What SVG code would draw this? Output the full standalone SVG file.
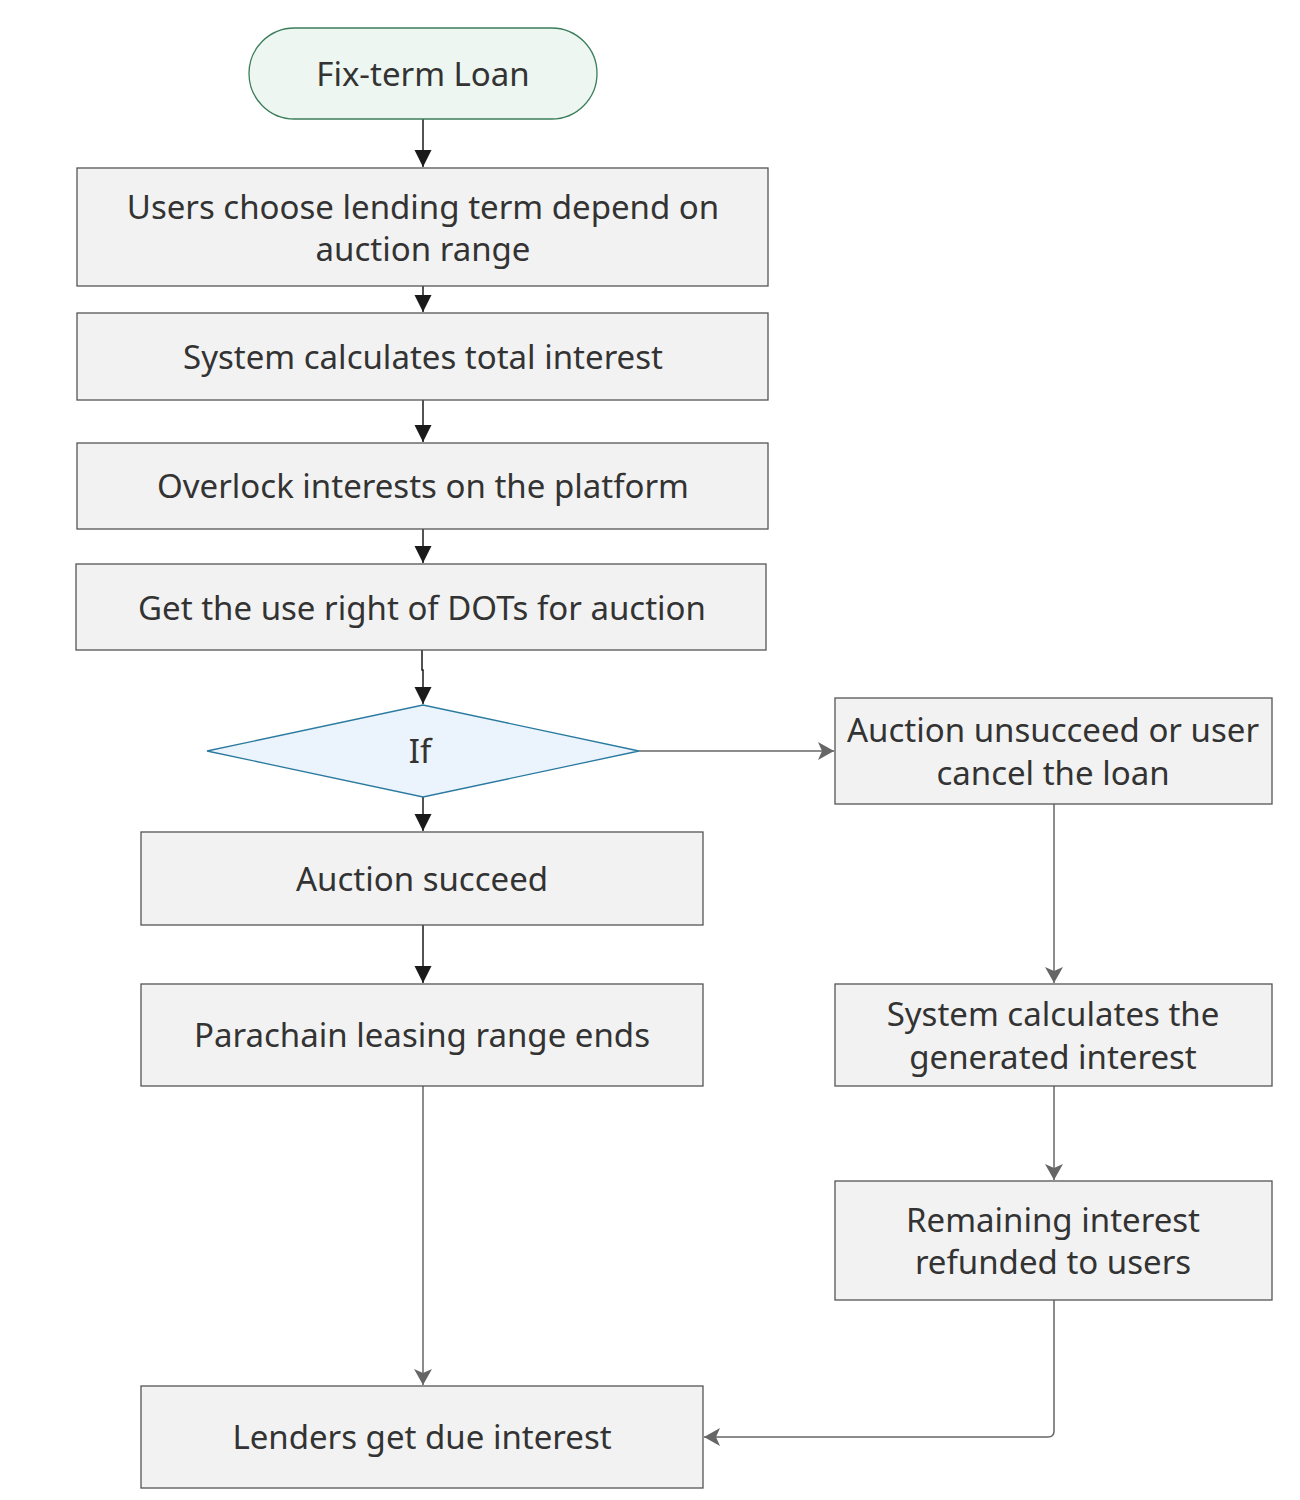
<svg xmlns="http://www.w3.org/2000/svg" width="1300" height="1500" viewBox="0 0 1300 1500">
<defs>
<style>
.box{fill:#f2f2f2;stroke:#555;stroke-width:1.3}
.t{font-family:"Noto Sans","Open Sans","Liberation Sans",sans-serif;font-size:33px;fill:#333;text-anchor:middle}
.cb{fill:none;stroke:#1a1a1a;stroke-width:1.5}
.cg{fill:none;stroke:#666;stroke-width:1.5}
</style>
<marker id="ab" markerWidth="18" markerHeight="18" viewBox="0 0 18 18" refX="17" refY="9" orient="auto" markerUnits="userSpaceOnUse">
<path d="M0,0.5 L17,9 L0,17.5 Z" fill="#1a1a1a"/>
</marker>
<marker id="ag" markerWidth="18" markerHeight="18" viewBox="0 0 18 18" refX="16" refY="9" orient="auto" markerUnits="userSpaceOnUse">
<path d="M0,0 L16,9 L0,18 L4,9 Z" fill="#666"/>
</marker>
</defs>
<rect width="1300" height="1500" fill="#fff"/>
<g id="connectors">
<path class="cb" d="M423,119 V167" marker-end="url(#ab)"/>
<path class="cb" d="M423,286 V312" marker-end="url(#ab)"/>
<path class="cb" d="M423,400 V442" marker-end="url(#ab)"/>
<path class="cb" d="M423,529 V563" marker-end="url(#ab)"/>
<path class="cb" d="M422,650 V670 H423 V704" marker-end="url(#ab)"/>
<path class="cb" d="M423,797 V831" marker-end="url(#ab)"/>
<path class="cb" d="M423,925 V983" marker-end="url(#ab)"/>
<path class="cg" d="M423,1086 V1385" marker-end="url(#ag)"/>
<path class="cg" d="M639,751 H834" marker-end="url(#ag)"/>
<path class="cg" d="M1054,804 V983" marker-end="url(#ag)"/>
<path class="cg" d="M1054,1086 V1180" marker-end="url(#ag)"/>
<path class="cg" d="M1054,1300 V1431 Q1054,1437 1048,1437 H704" marker-end="url(#ag)"/>
</g>
<g id="start">
<rect x="249" y="28" width="348" height="91" rx="45.5" fill="#edf6f1" stroke="#3a7d5a" stroke-width="1.3"/>
<text class="t" x="423" y="86">Fix-term Loan</text>
</g>
<g id="n1">
<rect class="box" x="77" y="168" width="691" height="118"/>
<text class="t" x="423" y="219">Users choose lending term depend on</text>
<text class="t" x="423" y="261">auction range</text>
</g>
<g id="n2">
<rect class="box" x="77" y="313" width="691" height="87"/>
<text class="t" x="423" y="369">System calculates total interest</text>
</g>
<g id="n3">
<rect class="box" x="77" y="443" width="691" height="86"/>
<text class="t" x="423" y="498">Overlock interests on the platform</text>
</g>
<g id="n4">
<rect class="box" x="76" y="564" width="690" height="86"/>
<text class="t" x="422" y="620">Get the use right of DOTs for auction</text>
</g>
<g id="d1">
<polygon points="207,751 423,705 639,751 423,797" fill="#ebf4fc" stroke="#2a7aa0" stroke-width="1.3"/>
<text class="t" x="420" y="763">If</text>
</g>
<g id="n5">
<rect class="box" x="141" y="832" width="562" height="93"/>
<text class="t" x="422" y="891">Auction succeed</text>
</g>
<g id="n6">
<rect class="box" x="141" y="984" width="562" height="102"/>
<text class="t" x="422" y="1047">Parachain leasing range ends</text>
</g>
<g id="n7">
<rect class="box" x="141" y="1386" width="562" height="102"/>
<text class="t" x="422" y="1449">Lenders get due interest</text>
</g>
<g id="r1">
<rect class="box" x="835" y="698" width="437" height="106"/>
<text class="t" x="1053" y="742">Auction unsucceed or user</text>
<text class="t" x="1053" y="785">cancel the loan</text>
</g>
<g id="r2">
<rect class="box" x="835" y="984" width="437" height="102"/>
<text class="t" x="1053" y="1026">System calculates the</text>
<text class="t" x="1053" y="1069">generated interest</text>
</g>
<g id="r3">
<rect class="box" x="835" y="1181" width="437" height="119"/>
<text class="t" x="1053" y="1232">Remaining interest</text>
<text class="t" x="1053" y="1274">refunded to users</text>
</g>
</svg>
